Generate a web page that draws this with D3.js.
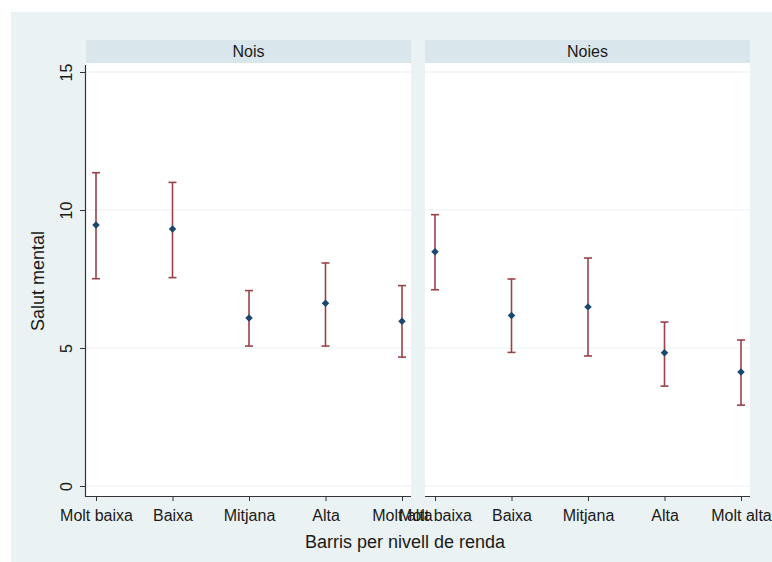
<!DOCTYPE html>
<html>
<head>
<meta charset="utf-8">
<script src="https://cdn.jsdelivr.net/npm/d3@7"></script>
<style>
html,body{margin:0;padding:0;background:#fff;}
svg{display:block;}
text{font-family:"Liberation Sans",Arial,sans-serif;fill:#1a1a1a;}
</style>
</head>
<body>
<svg id="chart" width="772" height="562"></svg>
<script>
const categories = ["Molt baixa","Baixa","Mitjana","Alta","Molt alta"];
const panels = ["Nois","Noies"];
const yTicks = [0,5,10,15];
// Nois (boys)
const noisMean = [9.46, 9.31, 6.09, 6.62, 5.97];
const noisLow  = [7.51, 7.55, 5.07, 5.07, 4.67];
const noisHigh = [11.35, 11.00, 7.08, 8.08, 7.26];
// Noies (girls)
const noiesMean = [8.49, 6.18, 6.49, 4.83, 4.13];
const noiesLow  = [7.11, 4.84, 4.71, 3.62, 2.93];
const noiesHigh = [9.83, 7.50, 8.26, 5.94, 5.29];

const series = [
  {name: panels[0], mean: noisMean, low: noisLow, high: noisHigh},
  {name: panels[1], mean: noiesMean, low: noiesLow, high: noiesHigh}
];

const svg = d3.select("#chart");
const W = 772, H = 562;
const bg = "#eaf2f3", strip = "#d9e6eb", grid = "#eaf2f3";
const errColor = "#9b4249", ptColor = "#1a476f";

svg.append("rect").attr("x",11).attr("y",12).attr("width",W-11).attr("height",H-12).attr("fill",bg);

const panelLeft = [86, 425], panelW = 325;
const stripTop = 40, stripBot = 63, plotBot = 496;

const y = d3.scaleLinear().domain([0,15]).range([486,72]);

series.forEach((s,i) => {
  const x0 = panelLeft[i];
  const g = svg.append("g");
  // strip
  g.append("rect").attr("x",x0).attr("y",stripTop).attr("width",panelW).attr("height",stripBot-stripTop).attr("fill",strip);
  g.append("text").attr("x",x0+panelW/2).attr("y",stripTop+17).attr("text-anchor","middle").attr("font-size",16).text(s.name);
  // plot area
  g.append("rect").attr("x",x0).attr("y",stripBot).attr("width",panelW).attr("height",plotBot-stripBot).attr("fill","#fff");
  // grid
  g.selectAll("line.grid").data(yTicks).enter().append("line")
    .attr("x1",x0).attr("x2",x0+panelW).attr("y1",d=>y(d)).attr("y2",d=>y(d))
    .attr("stroke",grid).attr("stroke-width",1.2);

  const x = d3.scalePoint().domain(categories).range([x0+10, x0+316]);

  // x axis
  const xa = g.append("g").attr("transform",`translate(0,${plotBot})`)
    .call(d3.axisBottom(x).tickSize(5).tickPadding(9));
  xa.select(".domain").attr("d",`M${x0},0.5H${x0+panelW}`).attr("stroke","#333").attr("stroke-width",1.2);
  xa.selectAll(".tick line").attr("stroke","#333");
  xa.selectAll(".tick text").attr("font-size",16).attr("font-family","Liberation Sans, Arial, sans-serif").attr("fill","#1a1a1a").attr("dy","0.71em");

  // error bars
  const data = categories.map((c,k)=>({c, m:s.mean[k], lo:s.low[k], hi:s.high[k]}));
  const eb = g.append("g").attr("stroke",errColor).attr("stroke-width",1.6).attr("fill","none");
  data.forEach(d=>{
    const cx = x(d.c);
    eb.append("line").attr("x1",cx).attr("x2",cx).attr("y1",y(d.hi)).attr("y2",y(d.lo));
    eb.append("line").attr("x1",cx-4).attr("x2",cx+4).attr("y1",y(d.hi)).attr("y2",y(d.hi));
    eb.append("line").attr("x1",cx-4).attr("x2",cx+4).attr("y1",y(d.lo)).attr("y2",y(d.lo));
  });
  g.selectAll("path.pt").data(data).enter().append("path")
    .attr("d", d3.symbol().type(d3.symbolSquare).size(28))
    .attr("transform",d=>`translate(${x(d.c)},${y(d.m)}) rotate(45)`)
    .attr("fill",ptColor);
});

// y axis on left panel
const ya = svg.append("g").attr("transform",`translate(${panelLeft[0]},0)`)
  .call(d3.axisLeft(y).tickValues(yTicks).tickSize(6).tickPadding(4).tickFormat(d3.format("d")));
ya.select(".domain").attr("d",`M-0.5,65V${plotBot+1}`).attr("stroke","#333").attr("stroke-width",1.2);
ya.selectAll(".tick line").attr("stroke","#333");
ya.selectAll(".tick text")
  .attr("font-size",16).attr("font-family","Liberation Sans, Arial, sans-serif").attr("fill","#1a1a1a")
  .attr("text-anchor","middle").attr("x",null).attr("dy",null)
  .attr("transform","translate(-14,0) rotate(-90)").attr("y",0);

// axis titles
svg.append("text").attr("transform","translate(44,281) rotate(-90)").attr("text-anchor","middle").attr("font-size",18).text("Salut mental");
svg.append("text").attr("x",405).attr("y",548).attr("text-anchor","middle").attr("font-size",18).text("Barris per nivell de renda");
</script>
</body>
</html>
